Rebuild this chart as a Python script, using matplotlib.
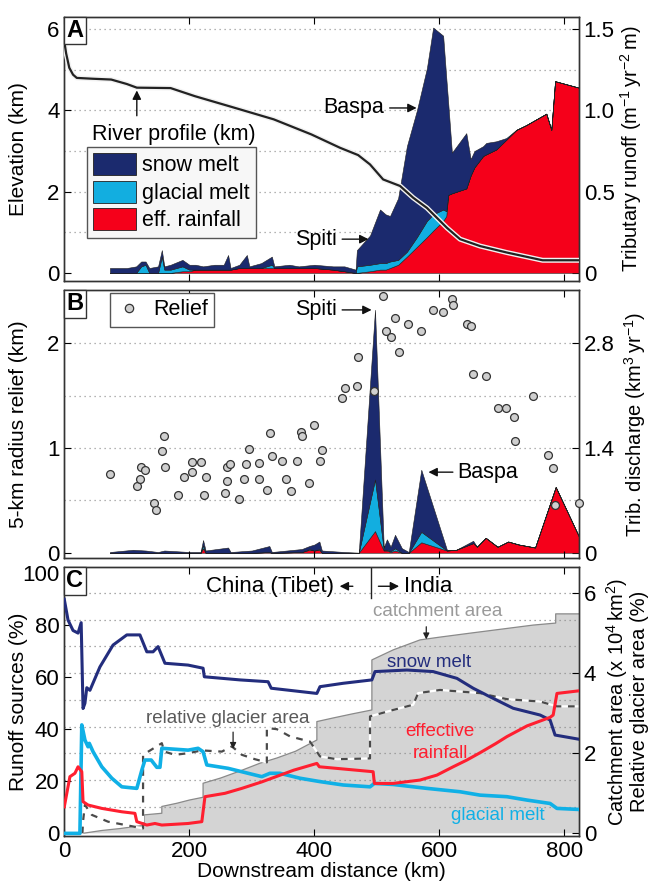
import numpy as np
import matplotlib
matplotlib.use("Agg")
import matplotlib.pyplot as plt
import matplotlib.patheffects as pe
from matplotlib.patches import Patch
from matplotlib.lines import Line2D

plt.rcParams['font.family'] = ['Liberation Sans', 'DejaVu Sans']
plt.rcParams['font.size'] = 16
plt.rcParams['axes.labelsize'] = 15
plt.rcParams['mathtext.fontset'] = 'custom'
plt.rcParams['mathtext.rm'] = 'Liberation Sans'
plt.rcParams['axes.linewidth'] = 1.0

SNOW = '#1b2a6e'
GLAC = '#12aee0'
RAIN = '#f5001a'
SNOW_LINE = '#232d7d'
RAIN_LINE = '#ff1f30'
GLAC_LINE = '#10b0e6'

# ---- panel A: river profile (km) and tributary runoff (stacked) ----
riv_km = [0, 3, 8, 14, 20, 45, 75, 100, 116, 170, 209, 269, 335, 395, 441, 470, 489, 510,
          537, 558, 580, 612, 633, 665, 708, 750, 765, 823]
riv_elev = [5.7, 5.4, 5.05, 4.88, 4.8, 4.78, 4.76, 4.65, 4.56, 4.55, 4.35, 4.08, 3.78, 3.41,
            3.08, 2.9, 2.67, 2.3, 2.14, 1.85, 1.6, 1.11, 0.83, 0.66, 0.5, 0.36, 0.31, 0.31]

a_km = [73, 100, 115, 123, 130, 136, 150, 156, 160, 170, 189, 200, 210, 222, 240, 255, 262, 266,
        280, 292, 296, 315, 332, 336, 360, 375, 400, 430, 448, 466, 468, 489, 505, 514, 521, 534,
        548, 564, 580, 590, 606, 611, 614, 620, 643, 650, 656, 670, 675, 691, 707, 723, 739, 771,
        779, 785, 823]
a_rain = [0, 0, 0, 0, 0, 0, 0, 0, 0, 0, 0.01, 0.01, 0.02, 0.02, 0.02, 0.02, 0.02, 0.02,
          0.03, 0.03, 0.03, 0.03, 0.03, 0.03, 0.03, 0.03, 0.03, 0.02, 0.01, 0.0, 0.0, 0.01, 0.02, 0.02, 0.03, 0.05,
          0.1, 0.16, 0.22, 0.26, 0.32, 0.35, 0.48, 0.49, 0.52, 0.6, 0.65, 0.72, 0.73, 0.76, 0.82, 0.88, 0.91, 0.98,
          0.88, 1.18, 1.14]
a_glac = [0, 0, 0, 0.04, 0.05, 0, 0, 0.1, 0.02, 0.02, 0.03, 0.01, 0, 0, 0, 0, 0, 0,
          0, 0, 0, 0, 0.02, 0, 0, 0, 0, 0, 0, 0, 0.04, 0.04, 0.04, 0.04, 0.04, 0.03,
          0.03, 0.06, 0.1, 0.1, 0.07, 0.03, 0, 0, 0, 0, 0, 0, 0, 0, 0, 0, 0, 0,
          0, 0, 0]
a_snow = [0.03, 0.03, 0.04, 0.03, 0.02, 0.03, 0.04, 0.04, 0.02, 0.03, 0.04, 0.03, 0.03, 0.02, 0.03, 0.03, 0.09, 0.01,
          0.02, 0.08, 0.01, 0.03, 0.05, 0.01, 0.02, 0.01, 0.02, 0.02, 0.03, 0.02, 0.10, 0.18, 0.33, 0.30, 0.28, 0.38,
          0.65, 0.78, 0.94, 1.15, 1.07, 0.82, 0.57, 0.25, 0.34, 0.10, 0.10, 0.06, 0.07, 0.05, 0.01, 0, 0, 0,
          0, 0, 0]

# ---- panel B: relief and tributary discharge (km3/yr) ----
relief_km = [73, 116, 121, 123, 129, 144, 147, 156, 159, 161, 182, 191, 204, 204, 219, 224, 227,
             257, 261, 261, 265, 280, 288, 291, 295, 311, 312, 325, 329, 333, 349, 354, 362, 372,
             378, 381, 391, 400, 409, 412, 445, 449, 468, 470, 496, 509, 515, 522, 529, 536, 550,
             571, 589, 606, 620, 622, 644, 651, 654, 675, 693, 706, 719, 721, 750, 774, 781, 785, 823]
relief = [0.75, 0.64, 0.70, 0.82, 0.79, 0.48, 0.41, 0.97, 1.12, 0.82, 0.55, 0.72, 0.77, 0.87, 0.87, 0.55, 0.72,
          0.57, 0.69, 0.82, 0.85, 0.51, 0.70, 0.85, 0.99, 0.86, 0.70, 0.60, 1.14, 0.92, 0.88, 0.70, 0.59, 0.88,
          1.15, 1.12, 0.67, 1.22, 0.88, 0.98, 1.48, 1.57, 1.59, 1.87, 1.55, 2.45, 2.12, 2.06, 2.24, 1.92, 2.19,
          2.12, 2.32, 2.30, 2.42, 2.37, 2.19, 2.17, 1.71, 1.69, 1.38, 1.38, 1.30, 1.07, 1.50, 0.93, 0.81, 0.46, 0.48]

b_km = [73, 110, 130, 150, 160, 200, 218, 222, 226, 262, 266, 300, 328, 332, 380, 392, 400, 408, 412, 448,
        471, 497, 511, 516, 522, 529, 540, 551, 571, 612, 627, 654, 660, 674, 693, 710, 727, 753, 786, 823]
b_rain = [0, 0, 0, 0, 0, 0, 0, 0.06, 0, 0, 0, 0, 0.01, 0, 0.01, 0.04, 0.03, 0.04, 0, 0,
          0, 0.29, 0.03, 0.03, 0.01, 0.03, 0, 0, 0.14, 0.03, 0.04, 0.13, 0.08, 0.2, 0.08, 0.15, 0.11, 0.07, 0.88, 0.22]
b_glac = [0, 0, 0, 0, 0, 0, 0, 0.04, 0, 0, 0, 0, 0, 0, 0, 0.01, 0, 0.01, 0, 0,
          0, 0.69, 0.01, 0.01, 0.01, 0.03, 0, 0, 0.14, 0, 0, 0, 0, 0, 0, 0, 0, 0, 0, 0]
b_snow = [0.01, 0.04, 0.03, 0.01, 0.03, 0.01, 0.01, 0.07, 0.03, 0.07, 0.01, 0.03, 0.08, 0.01, 0.04, 0.04, 0.08, 0.1, 0.03, 0.01,
          0, 2.27, 0.03, 0.14, 0.06, 0.18, 0.06, 0.01, 0.83, 0.01, 0, 0.03, 0, 0, 0, 0, 0, 0, 0, 0]

# ---- panel C: runoff sources (%), catchment area (1e4 km2), relative glacier area (%) ----
snow_km = [0, 6, 14, 22, 27, 30, 33, 36, 41, 57, 78, 100, 121, 132, 142, 150, 161, 198, 222, 224,
           281, 326, 331, 404, 409, 446, 492, 497, 548, 590, 628, 654, 681, 718, 761, 777, 785, 823]
snow_pct = [90, 82, 78, 77, 81, 48, 50, 56, 55, 64, 72.4, 76.3, 76.3, 69.8, 69.8, 71.8, 65.4, 64.7, 63.5, 60.2,
            59, 58.3, 55.8, 53.8, 56.4, 57.7, 59, 62.2, 62.8, 62.2, 59.6, 55.8, 52.5, 48.1, 45.5, 43.6, 37.8, 36.2]

rain_km = [0, 9, 17, 22, 28, 30, 38, 60, 92, 113, 116, 132, 145, 156, 198, 220, 225, 257, 284, 316,
           367, 404, 408, 494, 496, 526, 569, 596, 622, 644, 665, 690, 708, 740, 777, 782, 788, 823]
rain_pct = [10.2, 21.8, 23.1, 25.6, 23.7, 12.2, 10.9, 9.6, 8.3, 7.7, 4.5, 3.2, 3.8, 3.2, 3.8, 4.5, 14.1, 15.4, 17.3, 19.8,
            24.3, 26.9, 25.6, 23.7, 19.2, 19.2, 20.5, 22.4, 25.6, 28.2, 31, 34.5, 37.2, 41.3, 44.6, 45.5, 53.8, 54.8]

glac_km = [0, 25, 28, 33, 38, 40, 46, 60, 76, 92, 116, 124, 129, 139, 148, 153, 156, 198, 214, 222, 228,
           262, 294, 316, 329, 345, 377, 409, 446, 489, 496, 526, 580, 633, 665, 708, 740, 777, 788, 823]
glac_pct = [0, 0, 41.7, 35.9, 33.3, 34.6, 31.4, 25.6, 21.2, 17.9, 17.3, 24.3, 28.2, 28.2, 25.4, 25.4, 32.7, 32, 32.7, 31.4, 26.3,
            25, 23.1, 21.8, 23.1, 23.1, 21.2, 19.9, 18.6, 17.9, 19.2, 18.8, 17.3, 16, 14.7, 14.1, 12.8, 11.5, 9.6, 9.2]

catch_km = [0, 30, 60, 90, 113, 128, 128, 156, 156, 180, 200, 222, 222, 250, 280, 313, 340, 370, 404, 404,
            430, 460, 492, 492, 526, 569, 601, 650, 700, 750, 786, 786, 823]
catch_area = [0, 0, 0.07, 0.12, 0.17, 0.2, 0.46, 0.5, 0.67, 0.75, 0.83, 0.9, 1.25, 1.38, 1.55, 1.75, 1.88, 2.05, 2.33, 2.79,
              2.88, 2.98, 3.08, 4.33, 4.58, 4.83, 4.9, 5.0, 5.1, 5.2, 5.25, 5.48, 5.48]

glacier_km = [29, 30, 33, 44, 70, 110, 126, 126, 156, 160, 177, 198, 220, 252, 268, 284, 305, 324, 324, 340,
              361, 393, 409, 436, 489, 489, 526, 558, 566, 601, 633, 665, 708, 761, 788, 823]
glacier_area = [0, 0.3, 0.71, 0.46, 0.29, 0.17, 0.12, 1.96, 2.25, 2.04, 1.96, 2.0, 2.07, 2.04, 2.17, 1.96, 1.85, 1.77, 2.63, 2.6,
                2.42, 2.29, 1.92, 1.85, 1.87, 2.92, 3.08, 3.21, 3.5, 3.58, 3.54, 3.5, 3.35, 3.29, 3.17, 3.17]

border_km = 490
XMAX = 823

fig = plt.figure(figsize=(6.5, 8.85), dpi=100)
L, W = 0.0989, 0.7916
axA = fig.add_axes([L, 0.6825, W, 0.2983])
axB = fig.add_axes([L, 0.3695, W, 0.3028])
axC = fig.add_axes([L, 0.0554, W, 0.3039])

grid_kw = dict(color='#9a9a9a', ls=(0, (1, 3)), lw=0.9, zorder=0.5)
TXT = 15.5
ANN = 13.5
RLAB = 14.5


def style_axes(ax, ax2, label_x=False):
    ax.set_xlim(0, XMAX)
    ax.set_xticks([0, 200, 400, 600, 800])
    ax.tick_params(axis='both', direction='in', length=5, top=True, width=0.8)
    ax2.tick_params(axis='y', direction='in', length=5, width=0.8)
    if not label_x:
        ax.set_xticklabels([])
    ax.set_zorder(ax2.get_zorder() + 1)
    ax.patch.set_visible(False)
    for a in (ax, ax2):
        for s in a.spines.values():
            s.set_color('#333333')


def panel_letter(ax, letter):
    ax.text(0.004, 0.992, letter, transform=ax.transAxes, ha='left', va='top',
            fontsize=17, fontweight='bold',
            bbox=dict(boxstyle='square,pad=0.1', fc='white', ec='#333333', lw=1.0), zorder=10)


arrow_kw = dict(arrowstyle='-|>', color='#111111', lw=1.0, mutation_scale=13)

# ---------------- Panel A ----------------
axA2 = axA.twinx()
style_axes(axA, axA2)
axA.set_ylim(-0.2, 6.3)
axA2.set_ylim(-0.05, 1.575)
for v in np.arange(0.25, 1.6, 0.25):
    axA2.axhline(v, **grid_kw)
axA2.stackplot(a_km, a_rain, a_glac, a_snow, colors=[RAIN, GLAC, SNOW],
               edgecolor='#202020', linewidth=0.4, zorder=2)
axA.plot(riv_km, riv_elev, color='#222222', lw=1.6, zorder=5,
         path_effects=[pe.Stroke(linewidth=3.6, foreground='#f2f2f2'), pe.Normal()])
axA.set_yticks([0, 2, 4, 6])
axA2.set_yticks([0, 0.5, 1.0, 1.5])
axA2.set_yticklabels(['0', '0.5', '1.0', '1.5'])
axA.set_ylabel('Elevation (km)')
axA.yaxis.set_label_coords(-0.07, 0.5)
axA2.set_ylabel(r'Tributary runoff ($\mathregular{m^{-1}\,yr^{-2}\,m}$)', fontsize=RLAB)
axA2.yaxis.set_label_coords(1.077, 0.5)
axA.text(175, 3.41, 'River profile (km)', ha='center', va='center', fontsize=TXT)
axA.annotate('', xy=(116, 4.56), xytext=(116, 3.8), arrowprops=arrow_kw)
axA.text(512, 4.06, 'Baspa', ha='right', va='center', fontsize=TXT)
axA.annotate('', xy=(568, 4.06), xytext=(516, 4.06), arrowprops=arrow_kw)
axA.text(436, 0.83, 'Spiti', ha='right', va='center', fontsize=TXT)
axA.annotate('', xy=(491, 0.83), xytext=(440, 0.83), arrowprops=arrow_kw)
handles = [Patch(fc=SNOW, ec='#202020', lw=0.6), Patch(fc=GLAC, ec='#202020', lw=0.6),
           Patch(fc=RAIN, ec='#202020', lw=0.6)]
legA = axA.legend(handles, ['snow melt', 'glacial melt', 'eff. rainfall'], loc='lower left',
                  bbox_to_anchor=(0.044, 0.163), borderaxespad=0, fancybox=False, fontsize=TXT,
                  handlelength=2.0, handleheight=1.2, handletextpad=0.25, labelspacing=0.2,
                  borderpad=0.3, framealpha=1, facecolor='#f7f7f7', edgecolor='#555555')
legA.set_zorder(20)
panel_letter(axA, 'A')

# ---------------- Panel B ----------------
axB2 = axB.twinx()
style_axes(axB, axB2)
axB.set_ylim(-0.05, 2.51)
axB2.set_ylim(-0.07, 3.514)
for v in np.arange(0.7, 3.0, 0.7):
    axB2.axhline(v, **grid_kw)
axB2.stackplot(b_km, b_rain, b_glac, b_snow, colors=[RAIN, GLAC, SNOW],
               edgecolor='#202020', linewidth=0.4, zorder=2)
axB.scatter(relief_km, relief, s=32, facecolor='#cfcfcf', edgecolor='#333333',
            linewidths=0.9, zorder=4, clip_on=False)
axB.set_yticks([0, 1, 2])
axB2.set_yticks([0, 1.4, 2.8])
axB2.set_yticklabels(['0', '1.4', '2.8'])
axB.set_ylabel('5-km radius relief (km)')
axB.yaxis.set_label_coords(-0.07, 0.5)
axB2.set_ylabel(r'Trib. discharge ($\mathregular{km^{3}\,yr^{-1}}$)', fontsize=RLAB)
axB2.yaxis.set_label_coords(1.085, 0.5)
axB.text(436, 2.32, 'Spiti', ha='right', va='center', fontsize=TXT)
axB.annotate('', xy=(496, 2.32), xytext=(440, 2.32), arrowprops=arrow_kw)
axB.text(629, 0.77, 'Baspa', ha='left', va='center', fontsize=TXT)
axB.annotate('', xy=(578, 0.77), xytext=(626, 0.77), arrowprops=arrow_kw)
legB = axB.legend([Line2D([], [], ls='', marker='o', ms=6, mfc='#cfcfcf', mec='#333333', mew=0.9)],
                  ['Relief'], loc='upper left', bbox_to_anchor=(0.089, 0.99), borderaxespad=0,
                  fancybox=False, handlelength=1.2, handletextpad=0.5, borderpad=0.3, fontsize=TXT,
                  framealpha=1, facecolor='white', edgecolor='#555555')
legB.set_zorder(20)
panel_letter(axB, 'B')

# ---------------- Panel C ----------------
axC2 = axC.twinx()
style_axes(axC, axC2, label_x=True)
axC.set_ylim(-1.0, 102.4)
axC2.set_ylim(-0.067, 6.65)
axC2.fill_between(catch_km, catch_area, facecolor='#d4d4d4', edgecolor='none', zorder=1)
axC2.plot(catch_km, catch_area, color='#8a8a8a', lw=0.9, zorder=1.2)
for v in np.arange(1, 10) * 2 / 3:
    axC2.axhline(v, color='#8f8f8f', ls=(0, (1, 3)), lw=0.9, zorder=1.5)
axC2.plot(glacier_km, glacier_area, color='white', lw=1.6, zorder=2)
axC2.plot(glacier_km, glacier_area, color='#4a4a4a', lw=1.6, ls=(0, (3, 3)), zorder=2.1)
axC.plot(snow_km, snow_pct, color=SNOW_LINE, lw=2.2, zorder=4)
axC.plot(glac_km, glac_pct, color=GLAC_LINE, lw=2.6, zorder=3)
axC.plot(rain_km, rain_pct, color=RAIN_LINE, lw=2.2, zorder=4)
axC.set_yticks([0, 20, 40, 60, 80, 100])
axC2.set_yticks([0, 2, 4, 6])
axC.set_ylabel('Runoff sources (%)')
axC.yaxis.set_label_coords(-0.07, 0.5)
axC.set_xlabel('Downstream distance (km)', labelpad=0)
axC2.set_ylabel(r'Catchment area (x $\mathregular{10^{4}\,km^{2}}$)', fontsize=RLAB)
axC2.yaxis.set_label_coords(1.05, 0.5)
fig.text(0.984, axC.get_position().y0 + axC.get_position().height / 2,
         'Relative glacier area (%)', rotation=90, ha='center', va='center', fontsize=RLAB)

axC.axvline(border_km, ymin=0.885, ymax=1.0, color='#222222', lw=1.0)
axC.text(431, 95, 'China (Tibet)', ha='right', va='center')
axC.annotate('', xy=(436, 95), xytext=(466, 95), arrowprops=arrow_kw)
axC.annotate('', xy=(540, 95), xytext=(498, 95), arrowprops=arrow_kw)
axC.text(544, 95, 'India', ha='left', va='center')
axC.text(598, 85.2, 'catchment area', ha='center', va='center', color='#9a9a9a', fontsize=ANN)
axC.annotate('', xy=(579, 73.5), xytext=(579, 80.5),
             arrowprops=dict(arrowstyle='-|>', color='#222222', lw=0.9, mutation_scale=9))
axC.text(262, 44.2, 'relative glacier area', ha='center', va='center', color='#5a5a5a', fontsize=ANN)
axC.annotate('', xy=(270, 31.4), xytext=(270, 40.0),
             arrowprops=dict(arrowstyle='-|>', color='#222222', lw=0.9, mutation_scale=9))
axC.text(584, 65.6, 'snow melt', ha='center', va='center', color=SNOW_LINE, fontsize=ANN)
axC.text(601, 39.1, 'effective', ha='center', va='center', color=RAIN_LINE, fontsize=ANN)
axC.text(601, 30.8, 'rainfall', ha='center', va='center', color=RAIN_LINE, fontsize=ANN)
axC.text(694, 6.7, 'glacial melt', ha='center', va='center', color=GLAC_LINE, fontsize=ANN)
panel_letter(axC, 'C')

fig.savefig('out.png', dpi=100)
